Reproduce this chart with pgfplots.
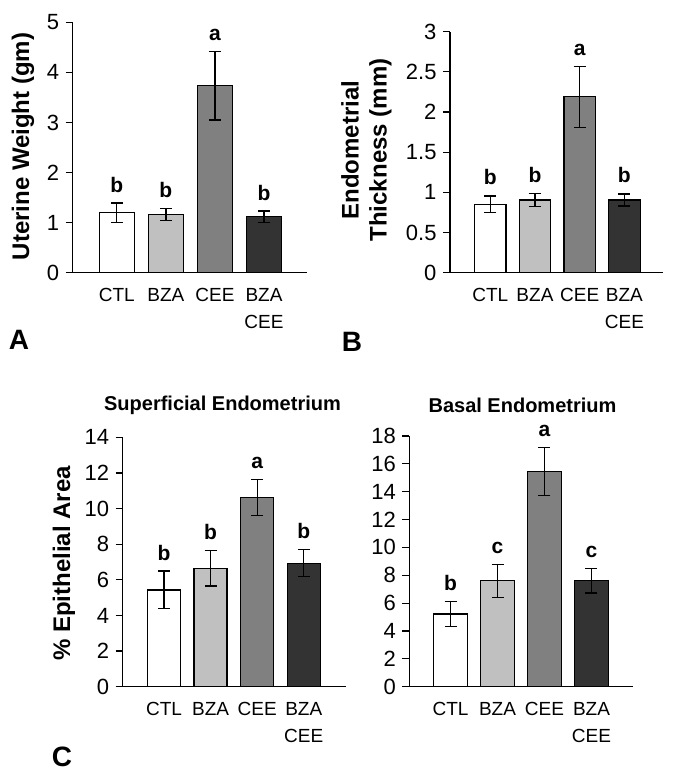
\documentclass[border=0pt]{standalone}
\usepackage{fontspec}
\setmainfont{Liberation Sans}
\usepackage{pgfplots}
\pgfplotsset{compat=1.18}
\definecolor{cw}{HTML}{FFFFFF}
\definecolor{cl}{HTML}{C0C0C0}
\definecolor{cm}{HTML}{808080}
\definecolor{cd}{HTML}{333333}
\pgfplotsset{
  panel/.style={
    scale only axis, clip=false,
    axis x line=bottom, axis y line=left,
    axis line style={-, line width=1.2bp, black},
    ymin=0,
    xtick={0,1,2,3}, xticklabels={CTL,BZA,CEE,{BZA\\CEE}},
    xtick style={draw=none},
    ytick style={line width=1.2bp, black},
    tick align=outside, major tick length=7bp,
    xticklabel style={font=\fontsize{19bp}{27bp}\selectfont, align=center, anchor=north, yshift=-5bp},
    yticklabel style={font=\fontsize{22bp}{26bp}\selectfont, xshift=-3bp},
    /pgf/number format/assume math mode=true,
    ybar, bar shift=0pt,
  },
  eb/.style={draw=black, line width=1.2bp,
    error bars/y dir=both, error bars/y explicit,
    error bars/error bar style={line width=1.2bp, black},
    error bars/error mark options={rotate=90, mark size=6bp, line width=1.2bp, black}},
}
\tikzset{sig/.style={anchor=base, yshift=11bp, font=\fontsize{21bp}{24bp}\bfseries\selectfont},
  ylab/.style={rotate=90, font=\fontsize{24bp}{28bp}\bfseries\selectfont, align=center},
  ttl/.style={font=\fontsize{20bp}{24bp}\bfseries\selectfont},
  plet/.style={font=\fontsize{28bp}{32bp}\bfseries\selectfont}}
\begin{document}
\begin{tikzpicture}
\path[use as bounding box] (0bp,0bp) rectangle (678bp,774bp);

% Panel A
\begin{axis}[panel, at={(72.7bp,501.3bp)}, anchor=south west,
  width=234bp, height=250.4bp, ymax=5, ytick={0,1,...,5},
  xmin=-0.9, xmax=3.87, bar width=35bp]
\addplot[fill=cw, eb] coordinates {(0,1.20) +- (0,0.19)};
\addplot[fill=cl, eb] coordinates {(1,1.16) +- (0,0.12)};
\addplot[fill=cm, eb] coordinates {(2,3.73) +- (0,0.68)};
\addplot[fill=cd, eb] coordinates {(3,1.12) +- (0,0.11)};
\node[sig] at (axis cs:0,1.39) {b};
\node[sig] at (axis cs:1,1.28) {b};
\node[sig] at (axis cs:2,4.41) {a};
\node[sig] at (axis cs:3,1.23) {b};
\end{axis}

% Panel B
\begin{axis}[panel, at={(450bp,501.3bp)}, anchor=south west,
  width=213.3bp, height=241bp, ymax=3, ytick={0,0.5,...,3},
  yticklabel style={/pgf/number format/fixed},
  xmin=-0.9, xmax=3.87, bar width=31.5bp]
\addplot[fill=cw, eb] coordinates {(0,0.85) +- (0,0.105)};
\addplot[fill=cl, eb] coordinates {(1,0.905) +- (0,0.085)};
\addplot[fill=cm, eb] coordinates {(2,2.19) +- (0,0.38)};
\addplot[fill=cd, eb] coordinates {(3,0.905) +- (0,0.075)};
\node[sig] at (axis cs:0,0.955) {b};
\node[sig] at (axis cs:1,0.99) {b};
\node[sig] at (axis cs:2,2.57) {a};
\node[sig] at (axis cs:3,0.98) {b};
\end{axis}

% Panel C
\begin{axis}[panel, at={(122.7bp,87.3bp)}, anchor=south west,
  width=223bp, height=249.4bp, ymax=14, ytick={0,2,...,14},
  xmin=-0.886, xmax=3.9, bar width=33bp]
\addplot[fill=cw, eb] coordinates {(0,5.43) +- (0,1.06)};
\addplot[fill=cl, eb] coordinates {(1,6.65) +- (0,1.0)};
\addplot[fill=cm, eb] coordinates {(2,10.61) +- (0,1.02)};
\addplot[fill=cd, eb] coordinates {(3,6.93) +- (0,0.75)};
\node[sig] at (axis cs:0,6.49) {b};
\node[sig] at (axis cs:1,7.65) {b};
\node[sig] at (axis cs:2,11.63) {a};
\node[sig] at (axis cs:3,7.68) {b};
\end{axis}

% Panel D
\begin{axis}[panel, at={(409.3bp,87.3bp)}, anchor=south west,
  width=224bp, height=250.7bp, ymax=18, ytick={0,2,...,18},
  xmin=-0.877, xmax=3.89, bar width=33.7bp]
\addplot[fill=cw, eb] coordinates {(0,5.22) +- (0,0.9)};
\addplot[fill=cl, eb] coordinates {(1,7.6) +- (0,1.2)};
\addplot[fill=cm, eb] coordinates {(2,15.45) +- (0,1.75)};
\addplot[fill=cd, eb] coordinates {(3,7.6) +- (0,0.87)};
\node[sig] at (axis cs:0,6.12) {b};
\node[sig] at (axis cs:1,8.8) {c};
\node[sig] at (axis cs:2,17.2) {a};
\node[sig] at (axis cs:3,8.47) {c};
\end{axis}

% Labels
\node[ylab] at (23bp,627.5bp) {Uterine Weight (gm)};
\node[ylab] at (366.5bp,624bp) {Endometrial\\Thickness (mm)};
\node[ylab] at (64bp,210.5bp) {\% Epithelial Area};
\node[ttl] at (222.5bp,369bp) {Superficial Endometrium};
\node[ttl] at (522.5bp,369bp) {Basal Endometrium};
\node[plet] at (19bp,434bp) {A};
\node[plet] at (352bp,432bp) {B};
\node[plet] at (62bp,17bp) {C};
\end{tikzpicture}
\end{document}
